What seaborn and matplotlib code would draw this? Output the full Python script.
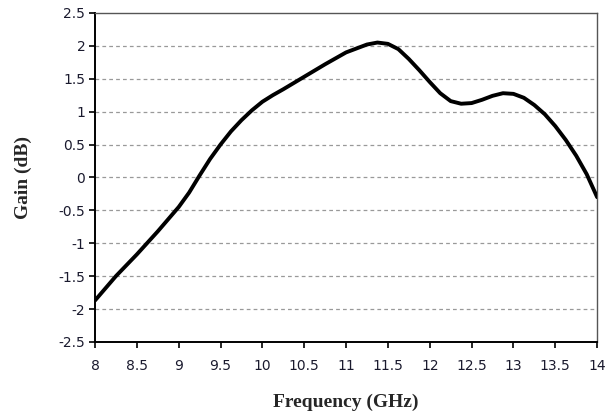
"""Gain vs frequency curve."""

import matplotlib
matplotlib.use("Agg")
import matplotlib.pyplot as plt
import numpy as np
import pandas as pd
import seaborn as sns

FREQ_GHZ = [8.0, 8.25, 8.5, 8.75, 9.0, 9.125, 9.25, 9.375, 9.5, 9.625, 9.75,
            9.875, 10.0, 10.125, 10.25, 10.5, 10.75, 11.0, 11.125, 11.25,
            11.375, 11.5, 11.625, 11.75, 11.875, 12.0, 12.125, 12.25, 12.375,
            12.5, 12.625, 12.75, 12.875, 13.0, 13.125, 13.25, 13.375, 13.5,
            13.625, 13.75, 13.875, 14.0]
GAIN_DB = [-1.87, -1.5, -1.17, -0.82, -0.45, -0.23, 0.03, 0.28, 0.5, 0.7, 0.87,
           1.02, 1.15, 1.25, 1.34, 1.53, 1.72, 1.9, 1.96, 2.02,
           2.05, 2.03, 1.95, 1.8, 1.63, 1.45, 1.28, 1.16, 1.12,
           1.13, 1.18, 1.24, 1.28, 1.27, 1.21, 1.1, 0.96, 0.78,
           0.57, 0.33, 0.05, -0.3]

X_TICKS = [8, 8.5, 9, 9.5, 10, 10.5, 11, 11.5, 12, 12.5, 13, 13.5, 14]
Y_TICKS = [-2.5, -2, -1.5, -1, -0.5, 0, 0.5, 1, 1.5, 2, 2.5]

sns.set_style("white")
plt.rcParams["font.family"] = ["DejaVu Sans"]

df = pd.DataFrame({"freq": FREQ_GHZ, "gain": GAIN_DB})

fig = plt.figure(figsize=(6.05, 4.17), dpi=100)
ax = fig.add_axes([0.157, 0.18, 0.83, 0.789])

for y in Y_TICKS[1:-1]:
    ax.axhline(y, color="#999999", lw=0.9, ls=(0, (3, 2.5)), zorder=1)

sns.lineplot(data=df, x="freq", y="gain", color="black", lw=2.8, ax=ax, zorder=3)

ax.set_xlim(8, 14)
ax.set_ylim(-2.5, 2.5)
ax.set_xticks(X_TICKS)
ax.set_xticklabels([f"{t:g}" for t in X_TICKS])
ax.set_yticks(Y_TICKS)
ax.set_yticklabels([f"{t:g}" for t in Y_TICKS])
ax.tick_params(axis="both", direction="out", length=4, width=1.2, color="black",
               labelsize=10, labelcolor="#1a1a2e", pad=3,
               bottom=True, left=True)
ax.tick_params(axis="x", pad=8)

for side in ("left", "bottom"):
    ax.spines[side].set_color("black")
    ax.spines[side].set_linewidth(1.4)
for side in ("top", "right"):
    ax.spines[side].set_color("#555555")
    ax.spines[side].set_linewidth(1.0)

ax.set_xlabel("Frequency (GHz)", family="Liberation Serif", fontweight="bold",
              fontsize=14, labelpad=15)
ax.set_ylabel("Gain (dB)", family="Liberation Serif", fontweight="bold",
              fontsize=14, labelpad=19)

fig.savefig("out.png", dpi=100)
plt.close(fig)
